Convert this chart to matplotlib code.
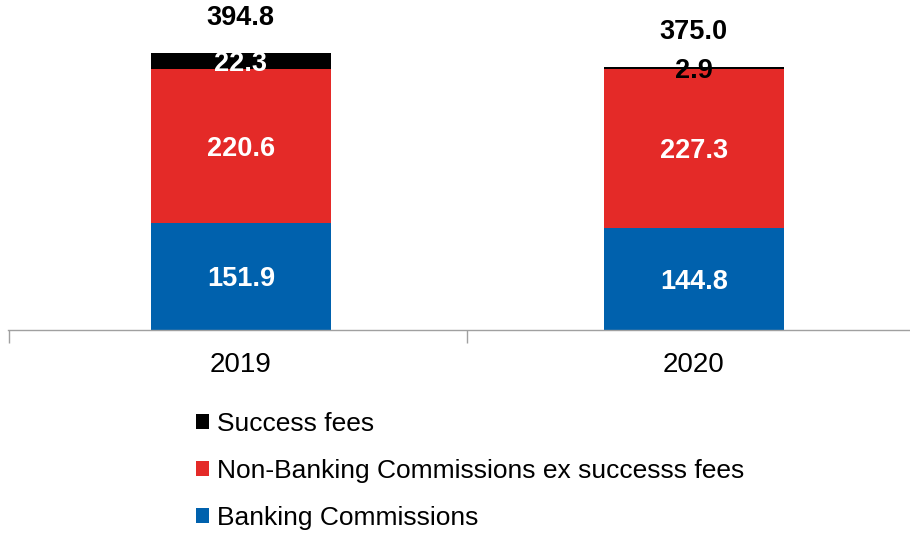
import matplotlib
matplotlib.use("Agg")
import matplotlib.pyplot as plt
from matplotlib.patches import Patch

plt.rcParams['font.family'] = ['Liberation Sans', 'DejaVu Sans']

years = ["2019", "2020"]
banking = [151.9, 144.8]
non_banking = [220.6, 227.3]
success = [22.3, 2.9]
totals = [394.8, 375.0]

series_names = ["Banking Commissions", "Non-Banking Commissions ex successs fees", "Success fees"]
colors = ["#0061AD", "#E42A28", "#000000"]

fig = plt.figure(figsize=(9.10, 5.33), dpi=100)
W, H = 910, 533
ax = fig.add_axes([8 / W, (H - 330) / H, (W - 8) / W, 330 / H])

x = list(range(len(years)))
bw = 0.397
bottoms = [0.0] * len(years)
bars = []
for vals, col in zip([banking, non_banking, success], colors):
    b = ax.bar(x, vals, bw, bottom=bottoms, color=col, edgecolor='none', zorder=2)
    bars.append(b)
    for i, v in enumerate(vals):
        tc = 'white' if v > 10 else 'black'
        ax.annotate(f"{v:.1f}", (x[i], bottoms[i] + v / 2), xytext=(0, -2),
                    textcoords='offset points', ha='center', va='center',
                    color=tc, fontsize=19.5, fontweight='bold', zorder=3)
    bottoms = [bo + v for bo, v in zip(bottoms, vals)]

for i, t in enumerate(totals):
    ax.annotate(f"{t:.1f}", (x[i], bottoms[i]), xytext=(0, 25), textcoords='offset points',
                ha='center', va='center', fontsize=19.5, fontweight='bold', color='black')

ax.set_ylim(0, 330 / 0.7016)
xmin = -0.514
ax.set_xlim(xmin, xmin + 902 / 453)
for s in ['top', 'right', 'left']:
    ax.spines[s].set_visible(False)
ax.spines['bottom'].set_color('#A0A0A0')
ax.spines['bottom'].set_linewidth(1.0)
ax.set_yticks([])
ax.set_xticks(x)
ax.set_xticklabels(years, fontsize=20)
ax.tick_params(axis='x', which='major', length=0, pad=16)
ax.set_xticks([xmin + 0.003, 0.5], minor=True)
ax.tick_params(axis='x', which='minor', length=9, color='#A0A0A0', width=1.0)

handles = [Patch(facecolor=c, edgecolor='none') for c in colors][::-1]
labels = series_names[::-1]
fig.legend(handles, labels, loc='center left', bbox_to_anchor=(196 / W, (H - 471) / H),
           frameon=False, fontsize=19, handlelength=0.5, handleheight=0.5,
           handletextpad=0.3, labelspacing=0.87, borderpad=0, borderaxespad=0)

fig.savefig("out.png", dpi=100)
